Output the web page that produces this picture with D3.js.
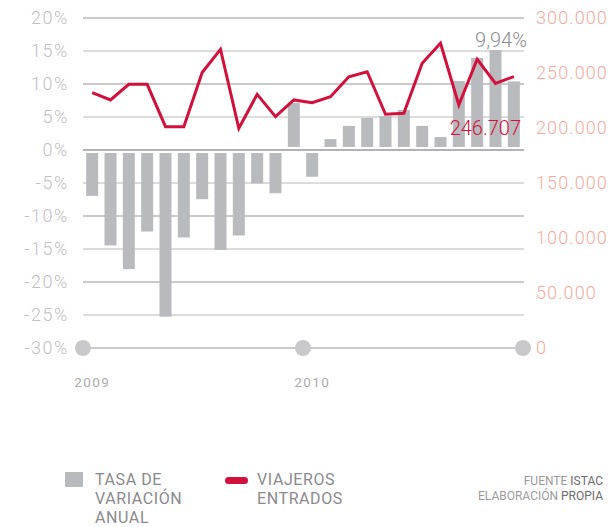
<!DOCTYPE html>
<html>
<head>
<meta charset="utf-8">
<script src="https://cdn.jsdelivr.net/npm/d3@7"></script>
<style>
  body { margin: 0; background: #fff; }
  svg text { font-family: Roboto, "Liberation Sans", sans-serif; }
</style>
</head>
<body>
<svg id="chart" width="609" height="527"></svg>
<script>
// months 2009-01 .. 2010-12
const months = ["2009-01","2009-02","2009-03","2009-04","2009-05","2009-06","2009-07","2009-08","2009-09","2009-10","2009-11","2009-12",
                "2010-01","2010-02","2010-03","2010-04","2010-05","2010-06","2010-07","2010-08","2010-09","2010-10","2010-11","2010-12"];
// tasa de variacion anual (%)
const tasa = [-6.5, -14.0, -17.6, -11.9, -24.8, -12.8, -7.0, -14.7, -12.5, -4.6, -6.1, 6.7,
              -3.6, 1.2, 3.2, 4.4, 4.7, 5.6, 3.2, 1.5, 10.0, 13.5, 14.7, 9.94];
// viajeros entrados
const viajeros = [232100, 225500, 239700, 239700, 201200, 201200, 250400, 271500, 199700, 230600, 210300, 225500,
                  223000, 228500, 246600, 251200, 212500, 213400, 258800, 277000, 220900, 262500, 240600, 246707];
const leftTicks = [20, 15, 10, 5, 0, -5, -10, -15, -20, -25, -30];
const rightTicks = [0, 50000, 100000, 150000, 200000, 250000, 300000];
const yearLabels = [{label: "2009", month: 0}, {label: "2010", month: 12}];

const svg = d3.select("#chart");
const x0 = 83, x1 = 523, yTop = 18, yBot = 348;

let x = d3.scaleLinear().domain([0, months.length]).range([x0, x1]);
let yL = d3.scaleLinear().domain([-30, 20]).range([yBot, yTop]);
let yR = d3.scaleLinear().domain([0, 300000]).range([yBot, yTop]);

// gridlines
svg.append("g").selectAll("line")
  .data(leftTicks)
  .enter().append("line")
  .attr("x1", x0).attr("x2", x1 + 1)
  .attr("y1", d => yL(d)).attr("y2", d => yL(d))
  .attr("stroke", d => d === 0 ? "#9a9a9c" : (d % 10 === 0 ? "#b8b8ba" : "#d0d0d2"))
  .attr("stroke-width", 1.4);

// left axis labels
svg.append("g").selectAll("text")
  .data(leftTicks)
  .enter().append("text")
  .attr("x", 69).attr("y", d => yL(d))
  .attr("dy", "0.36em")
  .attr("text-anchor", "end")
  .attr("fill", "#c0c0c2")
  .style("font-size", "18px")
  .style("font-weight", 300)
  .style("letter-spacing", "1.6px")
  .text(d => (d < 0 ? "-" + Math.abs(d) : d) + "%");

// right axis labels
const fmt = d3.formatLocale({decimal: ",", thousands: ".", grouping: [3], currency: ["", ""]}).format(",");
svg.append("g").selectAll("text")
  .data(rightTicks)
  .enter().append("text")
  .attr("x", 536).attr("y", d => yR(d))
  .attr("dy", "0.36em")
  .attr("fill", "#f2ab9e")
  .style("font-size", "18px")
  .style("font-weight", 300)
  .style("letter-spacing", "1.1px")
  .text(d => fmt(d));

// bars
const gap = 3;
svg.append("g").selectAll("rect")
  .data(tasa)
  .enter().append("rect")
  .attr("x", (d, i) => x(i + 0.5) - 6)
  .attr("width", 12)
  .attr("y", d => d >= 0 ? yL(d) - gap : yL(0) + gap)
  .attr("height", d => Math.abs(yL(d) - yL(0)))
  .attr("fill", "#b9babd");

// line
let line = d3.line()
  .x((d, i) => x(i + 0.5))
  .y(d => yR(d));
svg.append("path")
  .datum(viajeros)
  .attr("d", line)
  .attr("fill", "none")
  .attr("stroke", "#d2103c")
  .attr("stroke-width", 3)
  .attr("stroke-linejoin", "miter");

// dots on baseline
svg.append("g").selectAll("circle")
  .data([0, 12, 24])
  .enter().append("circle")
  .attr("cx", d => x(d)).attr("cy", yBot)
  .attr("r", 8)
  .attr("fill", "#c8c8ca");

// year labels
svg.append("g").selectAll("text")
  .data(yearLabels)
  .enter().append("text")
  .attr("x", d => x(d.month + 0.5)).attr("y", 382)
  .attr("dy", "0.36em")
  .attr("text-anchor", "middle")
  .attr("fill", "#ababad")
  .style("font-size", "13.5px")
  .style("letter-spacing", "1.4px")
  .text(d => d.label);

// annotations
const last = months.length - 1;
svg.append("text")
  .attr("x", 527).attr("y", 40)
  .attr("dy", "0.36em")
  .attr("text-anchor", "end")
  .attr("fill", "#8c8c8e")
  .style("font-size", "20px")
  .style("font-weight", 300)
  .text(String(tasa[last]).replace(".", ",") + "%");
svg.append("text")
  .attr("x", 521).attr("y", 128)
  .attr("dy", "0.36em")
  .attr("text-anchor", "end")
  .attr("fill", "#d2103c")
  .style("font-size", "20px")
  .style("font-weight", 300)
  .text(fmt(viajeros[last]));

// legend
const legend = svg.append("g");
legend.append("rect")
  .attr("x", 65).attr("y", 472).attr("width", 18).attr("height", 15)
  .attr("fill", "#b9babd");
legend.append("text")
  .attr("x", 95).attr("y", 485)
  .attr("fill", "#8a8a8c")
  .style("font-size", "16px")
  .style("letter-spacing", "0.6px")
  .selectAll("tspan")
  .data(["TASA DE", "VARIACIÓN", "ANUAL"])
  .enter().append("tspan")
  .attr("x", 95)
  .attr("dy", (d, i) => i === 0 ? 0 : 19)
  .text(d => d);
legend.append("rect")
  .attr("x", 225).attr("y", 477).attr("width", 23).attr("height", 7).attr("rx", 3.5)
  .attr("fill", "#d2103c");
legend.append("text")
  .attr("x", 257).attr("y", 485)
  .attr("fill", "#8a8a8c")
  .style("font-size", "16px")
  .style("letter-spacing", "0.6px")
  .selectAll("tspan")
  .data(["VIAJEROS", "ENTRADOS"])
  .enter().append("tspan")
  .attr("x", 257)
  .attr("dy", (d, i) => i === 0 ? 0 : 19)
  .text(d => d);

// source
const src = svg.append("g").attr("text-anchor", "end").style("font-size", "12px");
let t1 = src.append("text").attr("x", 603).attr("y", 485).attr("fill", "#9a9a9c");
t1.append("tspan").text("FUENTE ");
t1.append("tspan").attr("fill", "#6a6a6c").text("ISTAC");
let t2 = src.append("text").attr("x", 603).attr("y", 500).attr("fill", "#9a9a9c");
t2.append("tspan").text("ELABORACIÓN ");
t2.append("tspan").attr("fill", "#6a6a6c").text("PROPIA");
</script>
</body>
</html>
